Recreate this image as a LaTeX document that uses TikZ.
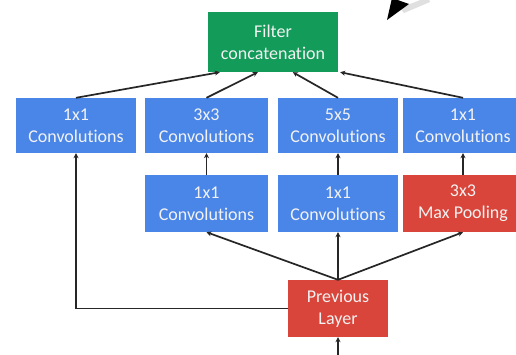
\documentclass[tikz,border=0pt]{standalone}
\usepackage{fontspec}
\setmainfont[Ligatures=NoCommon,RawFeature={-liga;-clig;-dlig}]{Carlito}
\usetikzlibrary{arrows.meta,calc}
\definecolor{gblue}{HTML}{4A86E8}
\definecolor{ggreen}{HTML}{139B5A}
\definecolor{gred}{HTML}{D9453B}
\tikzset{
  blk/.style={fill=#1, draw=none, text=white!95!black, align=center, font=\fontsize{18}{22}\selectfont, inner sep=0pt},
  conv/.style={blk=gblue, minimum width=120pt, minimum height=55pt},
  conn/.style={draw=black!85, line width=1.7pt, -{Stealth[length=5pt,width=5pt]}},
}
\begin{document}
\begin{tikzpicture}[x=1pt,y=-1pt]
\useasboundingbox (0,0) rectangle (516,354);
\clip (0,0) rectangle (516,354);
\fill[white] (0,0) rectangle (516,354);
% top-right arrow fragment
\fill[black!12] (400,8) -- (428,-3) -- (430,2) -- (404,13) -- cycle;
\fill[black] (387,20) -- (392,-2) -- (409,4) -- cycle;
% nodes
\node[blk=ggreen, minimum width=130pt, minimum height=60pt] (filt) at (273,42) {Filter\\concatenation};
\node[conv] (a1) at (76,125.5) {1x1\\Convolutions};
\node[conv, minimum width=123pt] (a2) at (206.5,125.5) {3x3\\Convolutions};
\node[conv] (a3) at (338,125.5) {5x5\\Convolutions};
\node[conv] (a4) at (463,125.5) {1x1\\Convolutions};
\node[conv, minimum width=123pt, minimum height=57pt] (b2) at (206.5,203.5) {1x1\\Convolutions};
\node[conv, minimum height=57pt] (b3) at (338,203.5) {1x1\\Convolutions};
\node[blk=gred, minimum width=120pt, minimum height=57pt] (b4) at (463,203.5) {3x3\\Max Pooling};
\node[blk=gred, minimum width=100pt, minimum height=57pt] (prev) at (338,308.5) {Previous\\Layer};
% target points on filter bottom
\coordinate (f1) at ($(filt.south west)+(12,0)$);
\coordinate (f2) at ($(filt.south west)+(50,0)$);
\coordinate (f3) at ($(filt.south west)+(85,0)$);
\coordinate (f4) at ($(filt.south east)+(2,0)$);
\coordinate (in) at (338,356);
% connectors
\draw[conn] (a1.north) -- (f1);
\draw[conn] (a2.north) -- (f2);
\draw[conn] (a3.north) -- (f3);
\draw[conn] (a4.north) -- (f4);
\draw[conn] (b2.north) -- (a2.south);
\draw[conn] (b3.north) -- (a3.south);
\draw[conn] (b4.north) -- (a4.south);
\draw[conn] (prev.north) -- (b2.south);
\draw[conn] (prev.north) -- (b3.south);
\draw[conn] (prev.north) -- (b4.south);
\draw[conn] (prev.west) -| (a1.south);
\draw[conn] (in) -- (prev.south);
\end{tikzpicture}
\end{document}
